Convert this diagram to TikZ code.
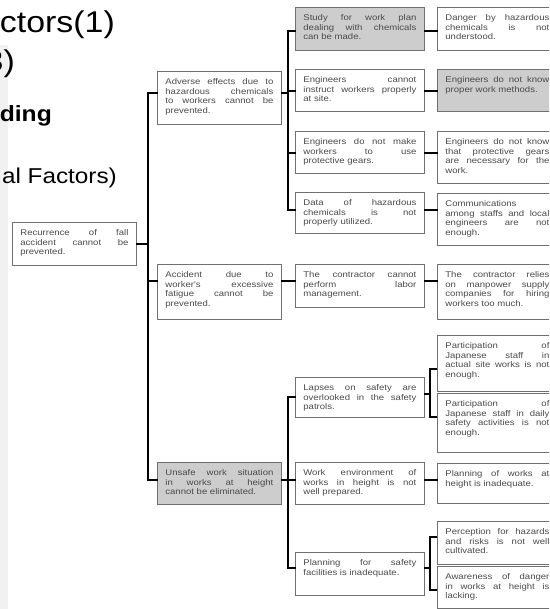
\documentclass[tikz,border=0pt]{standalone}
\usepackage{fontspec}
\usepackage{graphicx}
\setmainfont{Liberation Sans}
\newfontfamily\boxfont[FakeStretch=1.15]{Liberation Sans}

\definecolor{txtgrey}{HTML}{4A4A4A}
\definecolor{edgegrey}{HTML}{707070}
\definecolor{shade}{HTML}{CDCDCD}
\definecolor{band}{HTML}{F1F1F1}

\tikzset{
  cell/.style={draw=edgegrey, line width=0.8pt, fill=white, anchor=north west,
    inner xsep=8pt, inner ysep=7.5pt, text=txtgrey,
    font=\boxfont\fontsize{8.3}{9.4}\selectfont},
  shaded/.style={cell, fill=shade},
  link/.style={draw=black, line width=1.6pt, line cap=rect},
  slidetext/.style={inner sep=0pt, anchor=base east, text=black},
}

% justified cell text with forced line ends
\newcommand{\cellsetup}{\hyphenpenalty=10000 \exhyphenpenalty=10000
  \tolerance=10000 \hbadness=10000 \emergencystretch=0pt}
% name, style, left, top, width, height, text
\newcommand{\cellnode}[7]{%
  \node[#2] (#1) at (#3,#4)
    {\parbox[t][\dimexpr#6pt-15pt\relax][t]{\dimexpr#5pt-16pt\relax}{\cellsetup #7}};}

\begin{document}
\begin{tikzpicture}[x=1pt,y=-1pt]
\clip (0,0) rectangle (549,609);
\fill[white] (0,0) rectangle (549,609);
\fill[band] (0,45) rectangle (8,609);

% slide title fragments
\node[slidetext] (t1) at (115,33) {\scalebox{1.13}[1]{\fontsize{30}{30}\selectfont ctors(1)}};
\node[slidetext] (t2) at (15,72) {\scalebox{1.13}[1]{\fontsize{30}{30}\selectfont 3)}};
\node[slidetext] (t3) at (52,122) {\scalebox{1.12}[1]{\fontsize{22}{22}\selectfont\bfseries ding}};
\node[slidetext] (t4) at (117,184) {\scalebox{1.13}[1]{\fontsize{21.5}{22}\selectfont al Factors)}};

% root
\cellnode{root}{cell}{12}{222}{124}{43}{Recurrence~of~fall \linebreak accident~cannot~be \linebreak prevented.}

% first level
\cellnode{La}{cell}{157}{71}{124}{53}{Adverse~effects~due~to \linebreak hazardous~chemicals \linebreak to~workers~cannot~be \linebreak prevented.}
\cellnode{Lb}{cell}{157}{264}{124}{55}{Accident~due~to \linebreak worker's~excessive \linebreak fatigue~cannot~be \linebreak prevented.}
\cellnode{Lc}{shaded}{157}{462}{124}{42}{Unsafe~work~situation \linebreak in~works~at~height \linebreak cannot~be~eliminated.}

% second level
\cellnode{A1}{shaded}{295}{7}{129}{43}{Study~for~work~plan \linebreak dealing~with~chemicals \linebreak can~be~made.}
\cellnode{A2}{cell}{295}{69}{129}{42}{Engineers~cannot \linebreak instruct~workers~properly \linebreak at~site.}
\cellnode{A3}{cell}{295}{131}{129}{42}{Engineers~do~not~make \linebreak workers~to~use \linebreak protective~gears.}
\cellnode{A4}{cell}{295}{192}{129}{41}{Data~of~hazardous \linebreak chemicals~is~not \linebreak properly~utilized.}
\cellnode{B1}{cell}{295}{264}{129}{43}{The~contractor~cannot \linebreak perform~labor \linebreak management.}
\cellnode{C1}{cell}{295}{377}{129}{40}{Lapses~on~safety~are \linebreak overlooked~in~the~safety \linebreak patrols.}
\cellnode{C2}{cell}{295}{462}{129}{42}{Work~environment~of \linebreak works~in~height~is~not \linebreak well~prepared.}
\cellnode{C3}{cell}{295}{552}{129}{43}{Planning~for~safety \linebreak facilities~is~inadequate.}

% third level
\cellnode{A1x}{cell}{437}{7}{120}{43}{Danger~by~hazardous \linebreak chemicals~is~not \linebreak understood.}
\cellnode{A2x}{shaded}{437}{69}{120}{42}{Engineers~do~not~know \linebreak proper~work~methods.}
\cellnode{A3x}{cell}{437}{131}{120}{52}{Engineers~do~not~know \linebreak that~protective~gears \linebreak are~necessary~for~the \linebreak work.}
\cellnode{A4x}{cell}{437}{193}{120}{52}{Communications \linebreak among~staffs~and~local \linebreak engineers~are~not \linebreak enough.}
\cellnode{B1x}{cell}{437}{264}{120}{55}{The~contractor~relies \linebreak on~manpower~supply \linebreak companies~for~hiring \linebreak workers~too~much.}
\cellnode{C1a}{cell}{437}{335}{120}{56}{Participation~of \linebreak Japanese~staff~in \linebreak actual~site~works~is~not \linebreak enough.}
\cellnode{C1b}{cell}{437}{393}{120}{59}{Participation~of \linebreak Japanese~staff~in~daily \linebreak safety~activities~is~not \linebreak enough.}
\cellnode{C2x}{cell}{437}{463}{120}{40}{Planning~of~works~at \linebreak height~is~inadequate.}
\cellnode{C3a}{cell}{437}{521}{120}{43}{Perception~for~hazards \linebreak and~risks~is~not~well \linebreak cultivated.}
\cellnode{C3b}{cell}{437}{566}{120}{42}{Awareness~of~danger \linebreak in~works~at~height~is \linebreak lacking.}

% junction points
\coordinate (m1) at (148,93);
\coordinate (m2) at (148,281);
\coordinate (m3) at (148,480);
\coordinate (aJ) at (288,93);
\coordinate (a1) at (288,31);
\coordinate (a2) at (288,91);
\coordinate (a3) at (288,153);
\coordinate (a4) at (288,210);
\coordinate (bJ) at (288,281);
\coordinate (c1) at (288,397);
\coordinate (c2) at (288,480);
\coordinate (c3) at (288,568);
\coordinate (k1a) at (430,369);
\coordinate (k1m) at (430,394);
\coordinate (k1b) at (430,417);
\coordinate (k2a) at (430,537);
\coordinate (k2m) at (430,568);
\coordinate (k2b) at (430,590);

% root to first level
\draw[link] (root.east) -- (root.east -| m1);
\draw[link] (m1) -- (m3);
\draw[link] (m1) -- (m1 -| La.west);
\draw[link] (m2) -- (m2 -| Lb.west);
\draw[link] (m3) -- (m3 -| Lc.west);

% first level to second level
\draw[link] (aJ -| La.east) -- (aJ);
\draw[link] (a1) -- (a4);
\draw[link] (a1) -- (a1 -| A1.west);
\draw[link] (a2) -- (a2 -| A2.west);
\draw[link] (a3) -- (a3 -| A3.west);
\draw[link] (a4) -- (a4 -| A4.west);
\draw[link] (bJ -| Lb.east) -- (bJ -| B1.west);
\draw[link] (c2 -| Lc.east) -- (c2);
\draw[link] (c1) -- (c3);
\draw[link] (c1) -- (c1 -| C1.west);
\draw[link] (c2) -- (c2 -| C2.west);
\draw[link] (c3) -- (c3 -| C3.west);

% second level to third level
\draw[link] (a1 -| A1.east) -- (a1 -| A1x.west);
\draw[link] (a2 -| A2.east) -- (a2 -| A2x.west);
\draw[link] (a3 -| A3.east) -- (a3 -| A3x.west);
\draw[link] (a4 -| A4.east) -- (a4 -| A4x.west);
\draw[link] (bJ -| B1.east) -- (bJ -| B1x.west);
\draw[link] (c2 -| C2.east) -- (c2 -| C2x.west);
\draw[link] (k1m -| C1.east) -- (k1m);
\draw[link, line cap=butt] (k1a -| C1a.west) -- (k1a) -- (k1b) -- (k1b -| C1b.west);
\draw[link] (k2m -| C3.east) -- (k2m);
\draw[link, line cap=butt] (k2a -| C3a.west) -- (k2a) -- (k2b) -- (k2b -| C3b.west);
\end{tikzpicture}
\end{document}
